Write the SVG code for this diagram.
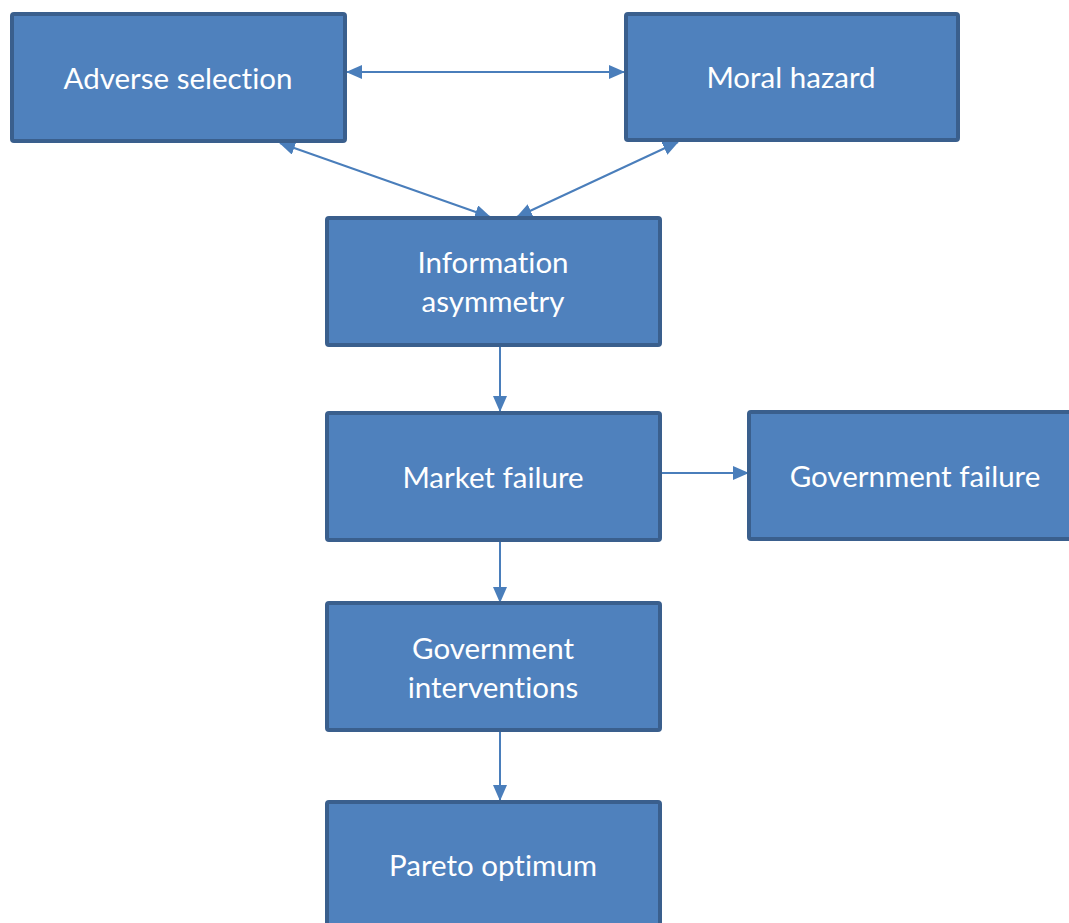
<svg xmlns="http://www.w3.org/2000/svg" width="1069" height="923" viewBox="0 0 1069 923">
<style>
.box{fill:#4F81BD;stroke:#3A5F8D;stroke-width:4;}
.lbl{font-family:Lato,"Open Sans",sans-serif;font-size:29.5px;fill:#FFFFFF;text-anchor:middle;font-variant-ligatures:none;}
.con{stroke:#4A7EBB;stroke-width:2;fill:none;}
</style>
<defs>
<marker id="ah" markerUnits="userSpaceOnUse" markerWidth="16" markerHeight="14" refX="15" refY="7" orient="auto-start-reverse" viewBox="0 0 16 14">
<path d="M0,0 L16,7 L0,14 Z" fill="#4A7EBB"/>
</marker>
</defs>
<rect width="1069" height="923" fill="#FFFFFF"/>
<g id="connectors">
<line class="con" x1="347" y1="72" x2="624" y2="72" marker-start="url(#ah)" marker-end="url(#ah)"/>
<line class="con" x1="280" y1="143" x2="490" y2="217" marker-start="url(#ah)" marker-end="url(#ah)"/>
<line class="con" x1="678" y1="142" x2="517" y2="217" marker-start="url(#ah)" marker-end="url(#ah)"/>
<line class="con" x1="500" y1="347" x2="500" y2="411" marker-end="url(#ah)"/>
<line class="con" x1="662" y1="473" x2="748" y2="473" marker-end="url(#ah)"/>
<line class="con" x1="500" y1="542" x2="500" y2="602" marker-end="url(#ah)"/>
<line class="con" x1="500" y1="732" x2="500" y2="800" marker-end="url(#ah)"/>
</g>
<g id="adverse">
<rect class="box" x="12" y="14" width="333" height="127" rx="2"/>
<text class="lbl" x="178" y="89">Adverse selection</text>
</g>
<g id="moral">
<rect class="box" x="626" y="14" width="332" height="126" rx="2"/>
<text class="lbl" x="791" y="88">Moral hazard</text>
</g>
<g id="info">
<rect class="box" x="327" y="218" width="333" height="127" rx="2"/>
<text class="lbl" x="493" y="273">Information</text>
<text class="lbl" x="493" y="312">asymmetry</text>
</g>
<g id="market">
<rect class="box" x="327" y="413" width="333" height="127" rx="2"/>
<text class="lbl" x="493" y="488">Market failure</text>
</g>
<g id="govfail">
<rect class="box" x="749" y="412" width="330" height="127" rx="2"/>
<text class="lbl" x="915" y="487">Government failure</text>
</g>
<g id="govint">
<rect class="box" x="327" y="603" width="333" height="127" rx="2"/>
<text class="lbl" x="493" y="659">Government</text>
<text class="lbl" x="493" y="698">interventions</text>
</g>
<g id="pareto">
<rect class="box" x="327" y="802" width="333" height="140" rx="2"/>
<text class="lbl" x="493" y="876">Pareto optimum</text>
</g>
</svg>
